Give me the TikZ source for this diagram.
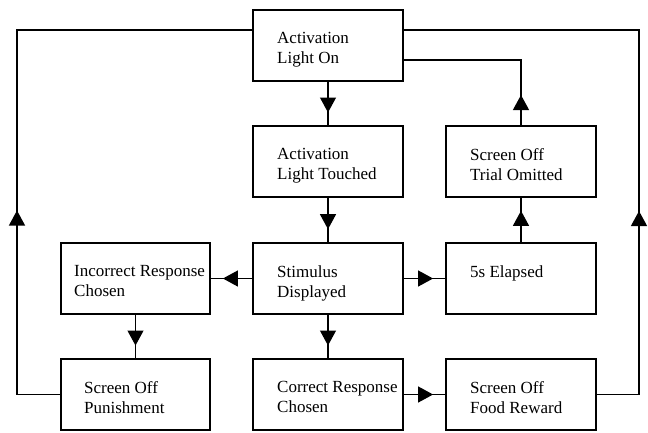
\documentclass[tikz,border=0pt]{standalone}
\usepackage{fontspec}
\setmainfont{Liberation Serif}
\usetikzlibrary{arrows.meta,decorations.markings,calc}
\begin{document}
\begin{tikzpicture}[x=1pt,y=-1pt,
  box/.style={draw,line width=1.3pt,minimum width=150pt,minimum height=71pt,inner sep=0pt,outer sep=0pt,anchor=north west},
  lbl/.style={anchor=north west,align=left,inner sep=0pt,font=\rmfamily\fontsize{17}{20}\selectfont},
  conn/.style={line width=1.2pt},
  tipat/.style={postaction={decorate},decoration={markings,mark=at position #1 with {\arrow{Triangle[width=16pt,length=15pt]}}}}]
\useasboundingbox (0,0) rectangle (648,432);
% boxes
\node[box] (A) at (253,10) {};
\node[box] (T) at (253,126) {};
\node[box] (O) at (446,126) {};
\node[box,minimum width=149pt] (I) at (61,243) {};
\node[box] (S) at (253,243) {};
\node[box] (E) at (446,243) {};
\node[box,minimum width=149pt] (P) at (61,359) {};
\node[box] (C) at (253,359) {};
\node[box] (F) at (446,359) {};
% labels
\node[lbl] (tA) at (277,32.5) {Activation\\Light On};
\node[lbl] (tT) at (277,148.5) {Activation\\Light Touched};
\node[lbl] (tO) at (470,148.5) {Screen Off\\Trial Omitted};
\node[lbl] (tI) at (74,265.5) {Incorrect Response\\Chosen};
\node[lbl] (tS) at (277,265.5) {Stimulus\\Displayed};
\node[lbl] (tE) at (470,265.5) {5s Elapsed};
\node[lbl] (tP) at (84,381.5) {Screen Off\\Punishment};
\node[lbl] (tC) at (277,381.5) {Correct Response\\Chosen};
\node[lbl] (tF) at (470,381.5) {Screen Off\\Food Reward};
% straight connectors
\draw[conn,tipat=0.7] (A) -- (T);
\draw[conn,tipat=0.7] (T) -- (S);
\draw[conn,tipat=0.7] (S) -- (I);
\draw[conn,tipat=0.7] (S) -- (E);
\draw[conn,tipat=0.7] (S) -- (C);
\draw[conn,tipat=0.7] (I) -- (P);
\draw[conn,tipat=0.7] (C) -- (F);
\draw[conn,tipat=0.7] (E) -- (O);
% return paths
\coordinate (M) at (521,60);
\draw[conn,tipat=31pt] (O.north) -- (M) -- (M -| A.east);
\coordinate (L) at (17,30);
\draw[conn,tipat=228pt] (P.west) -| (L) -- (L -| A.west);
\coordinate (R) at (639,30);
\draw[conn,tipat=226.5pt] (F.east) -| (R) -- (R -| A.east);
\end{tikzpicture}
\end{document}
